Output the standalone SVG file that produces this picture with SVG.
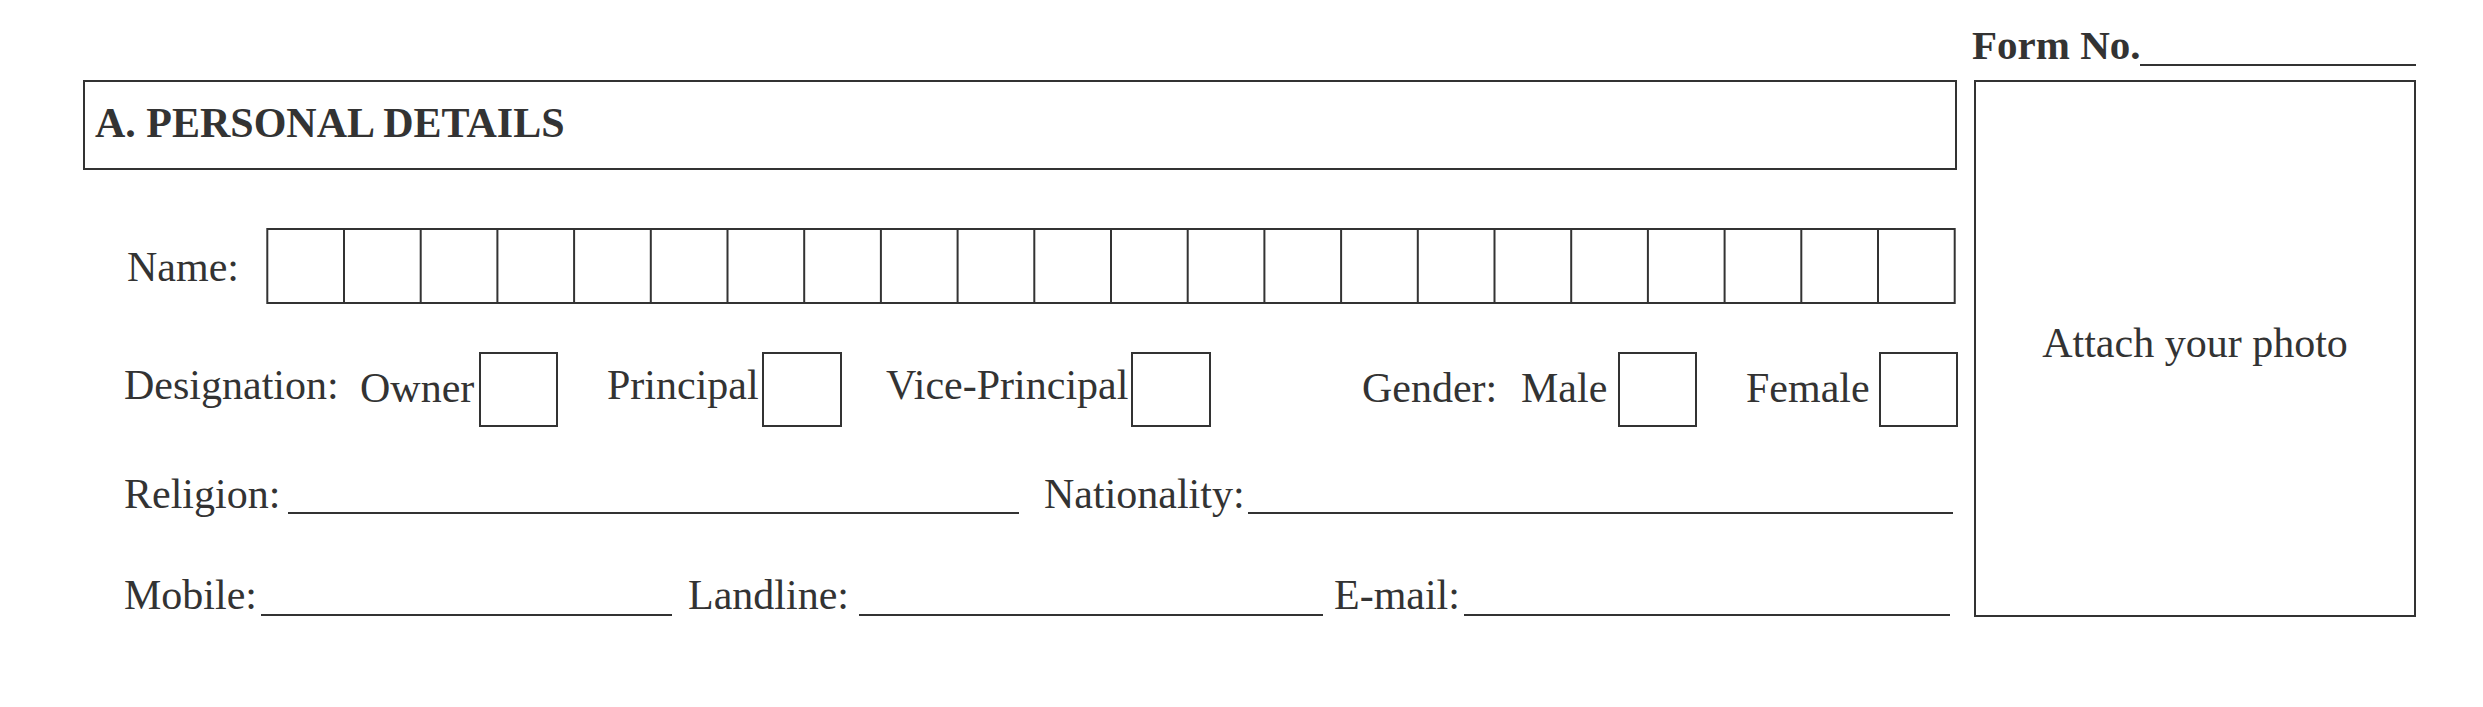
<svg xmlns="http://www.w3.org/2000/svg" width="2483" height="707" viewBox="0 0 2483 707">
<style>
  .t { font-family: "Liberation Serif", "Times New Roman", serif; font-size: 42px; fill: #333; }
  .b { font-weight: bold; }
  .fn { font-size: 41px; }
  .box { fill: none; stroke: #333; stroke-width: 2; }
  .ul { stroke: #333; stroke-width: 2; fill: none; }
</style>
<rect x="0" y="0" width="2483" height="707" fill="#fff"/>

<g id="form-no">
  <text class="t b fn" x="1972" y="59">Form No.</text>
  <line class="ul" x1="2140" y1="65" x2="2416" y2="65"/>
</g>

<g id="section-header">
  <rect class="box" x="84" y="81" width="1872" height="88"/>
  <text class="t b" x="95" y="137">A. PERSONAL DETAILS</text>
</g>

<g id="photo">
  <rect class="box" x="1975" y="81" width="440" height="535"/>
  <text class="t" x="2195" y="357" text-anchor="middle">Attach your photo</text>
</g>

<g id="name">
  <text class="t" x="127" y="281">Name:</text>
  <rect class="box" x="267.3" y="229" width="1687.4" height="74"/>
  <path class="ul" d="M344 229V303M420.7 229V303M497.4 229V303M574.1 229V303M650.8 229V303M727.5 229V303M804.2 229V303M880.9 229V303M957.6 229V303M1034.3 229V303M1111 229V303M1187.7 229V303M1264.4 229V303M1341.1 229V303M1417.8 229V303M1494.5 229V303M1571.2 229V303M1647.9 229V303M1724.6 229V303M1801.3 229V303M1878 229V303"/>
</g>

<g id="designation">
  <text class="t" x="124" y="399">Designation:</text>
  <text class="t" x="360" y="402">Owner</text>
  <rect class="box" x="480" y="353" width="77" height="73"/>
  <text class="t" x="607" y="399">Principal</text>
  <rect class="box" x="763" y="353" width="78" height="73"/>
  <text class="t" x="886" y="399">Vice-Principal</text>
  <rect class="box" x="1132" y="353" width="78" height="73"/>
</g>

<g id="gender">
  <text class="t" x="1362" y="402">Gender:</text>
  <text class="t" x="1521" y="402">Male</text>
  <rect class="box" x="1619" y="353" width="77" height="73"/>
  <text class="t" x="1746" y="402">Female</text>
  <rect class="box" x="1880" y="353" width="77" height="73"/>
</g>

<g id="religion">
  <text class="t" x="124" y="508">Religion:</text>
  <line class="ul" x1="288" y1="513" x2="1019" y2="513"/>
</g>

<g id="nationality">
  <text class="t" x="1044" y="508">Nationality:</text>
  <line class="ul" x1="1248" y1="513" x2="1953" y2="513"/>
</g>

<g id="mobile">
  <text class="t" x="124" y="609">Mobile:</text>
  <line class="ul" x1="261" y1="615" x2="672" y2="615"/>
</g>

<g id="landline">
  <text class="t" x="688" y="609">Landline:</text>
  <line class="ul" x1="859" y1="615" x2="1323" y2="615"/>
</g>

<g id="email">
  <text class="t" x="1334" y="609">E-mail:</text>
  <line class="ul" x1="1464" y1="615" x2="1950" y2="615"/>
</g>

<g id="connectors"></g>
</svg>
